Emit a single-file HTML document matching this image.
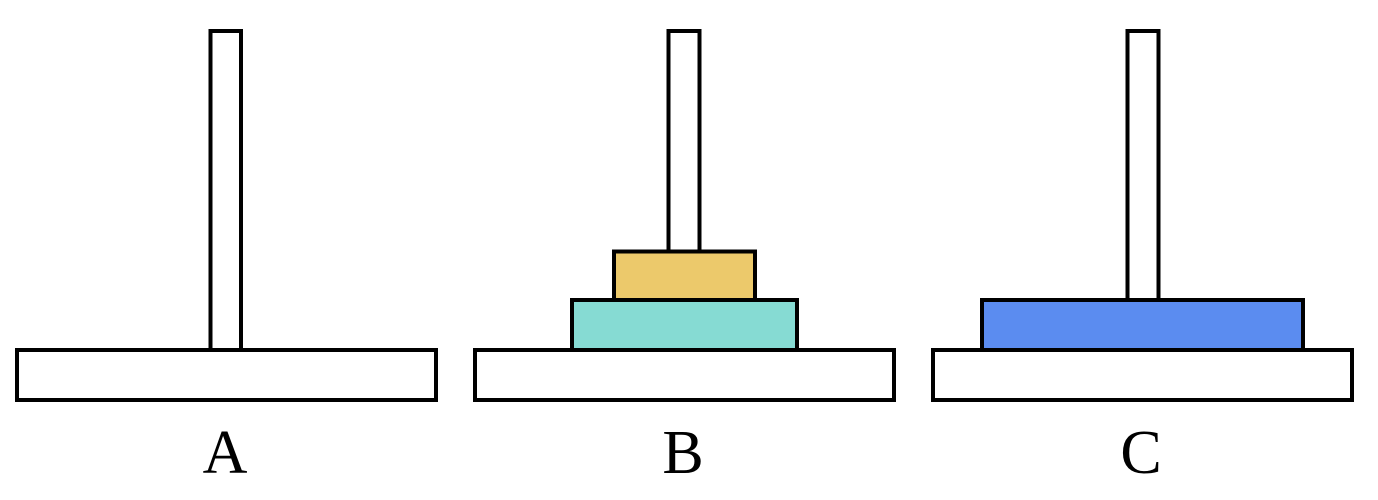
<!DOCTYPE html>
<html><head><meta charset="utf-8"><style>body{margin:0;background:#fff}svg{display:block}</style></head>
<body>
<svg width="1378" height="500" viewBox="0 0 1378 500">
<g stroke="#000" stroke-width="4" fill="#fff">
<g>
<rect x="210.5" y="31" width="30.5" height="319"/>
<rect x="17" y="350" width="419" height="50"/>
</g>
<g>
<rect x="668.5" y="31" width="31" height="269"/>
<rect x="475" y="350" width="419" height="50"/>
<rect x="614" y="251.5" width="141" height="48.5" fill="#ecc96b"/>
<rect x="572" y="300" width="225" height="50" fill="#86dbd3"/>
</g>
<g>
<rect x="1127.5" y="31" width="31" height="269"/>
<rect x="933" y="350" width="419" height="50"/>
<rect x="982" y="300" width="321" height="50" fill="#5b8cf0"/>
</g>
</g>
<g font-family="'Liberation Serif', serif" font-size="62" text-anchor="middle" fill="#000">
<text x="225" y="473">A</text>
<text x="683" y="473">B</text>
<text x="1141" y="473">C</text>
</g>
</svg>
</body></html>
